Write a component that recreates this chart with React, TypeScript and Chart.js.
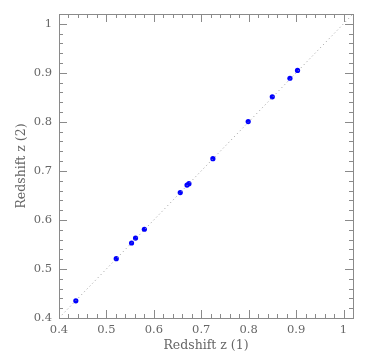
import React, { useEffect, useRef } from "react";
import { Chart, registerables } from "chart.js";

Chart.register(...registerables);

const redshift1 = [0.4355, 0.5207, 0.553, 0.5614, 0.58, 0.6557, 0.670, 0.674, 0.7245, 0.799, 0.8498, 0.887, 0.903];
const redshift2 = [0.435, 0.521, 0.553, 0.563, 0.581, 0.6557, 0.671, 0.674, 0.725, 0.8006, 0.851, 0.889, 0.905];
const axisMin = 0.4;
const axisMax = 1.02;
const diagonal = [axisMin, axisMax];
const xTitle = "Redshift z (1)";
const yTitle = "Redshift z (2)";

const FONT = "'DejaVu Serif', 'Liberation Serif', serif";
const TEXT = "#666666";
const FRAME = "#8a8a8a";

const frameTicks = {
  id: "frameTicks",
  afterDraw(chart: any) {
    const { ctx, chartArea } = chart;
    const { left, right, top, bottom } = chartArea;
    const xs = chart.scales.x;
    const ys = chart.scales.y;
    ctx.save();
    ctx.strokeStyle = FRAME;
    ctx.lineWidth = 1;
    ctx.strokeRect(Math.round(left) + 0.5, Math.round(top) + 0.5, Math.round(right - left), Math.round(bottom - top));
    const isMajor = (v: number) => Math.abs(v * 10 - Math.round(v * 10)) < 1e-6;
    ctx.beginPath();
    xs.ticks.forEach((t: any) => {
      const v = t.value;
      if (v <= axisMin + 1e-6 || v >= axisMax - 1e-6) return;
      const len = isMajor(v) ? 8 : 4;
      const px = Math.round(xs.getPixelForValue(v)) + 0.5;
      ctx.moveTo(px, bottom);
      ctx.lineTo(px, bottom - len);
      ctx.moveTo(px, top);
      ctx.lineTo(px, top + len);
    });
    ys.ticks.forEach((t: any) => {
      const v = t.value;
      if (v <= axisMin + 1e-6 || v >= axisMax - 1e-6) return;
      const len = isMajor(v) ? 8 : 4;
      const py = Math.round(ys.getPixelForValue(v)) + 0.5;
      ctx.moveTo(left, py);
      ctx.lineTo(left + len, py);
      ctx.moveTo(right, py);
      ctx.lineTo(right - len, py);
    });
    ctx.stroke();
    ctx.restore();
  },
};

export default function App() {
  const ref = useRef<HTMLCanvasElement>(null);
  useEffect(() => {
    document.body.style.margin = "0";
    const labelCb = (v: any) => {
      const n = Number(v);
      if (Math.abs(n * 10 - Math.round(n * 10)) > 1e-6) return "";
      if (n > 1.0001) return "";
      return Number(n.toFixed(1)).toString();
    };
    const chart = new Chart(ref.current as HTMLCanvasElement, {
      type: "scatter",
      data: {
        datasets: [
          {
            type: "line",
            data: diagonal.map((v) => ({ x: v, y: v })),
            borderColor: "#9a9a9a",
            borderWidth: 1,
            borderDash: [1, 3],
            pointRadius: 0,
            fill: false,
          } as any,
          {
            data: redshift1.map((x, i) => ({ x, y: redshift2[i] })),
            backgroundColor: "#0000ff",
            borderColor: "#0000ff",
            pointRadius: 2.6,
            borderWidth: 0,
          },
        ],
      },
      options: {
        animation: false,
        responsive: false,
        maintainAspectRatio: false,
        layout: { padding: { top: 14, right: 13, left: 0, bottom: 0 } },
        plugins: { legend: { display: false }, tooltip: { enabled: false } },
        scales: {
          x: {
            type: "linear",
            min: axisMin,
            max: axisMax,
            grid: { display: false, drawTicks: false },
            border: { display: false },
            ticks: {
              stepSize: 0.02,
              autoSkip: false,
              maxRotation: 0,
              padding: 5,
              color: TEXT,
              font: { family: FONT, size: 11.5 },
              callback: labelCb,
            },
            title: {
              display: true,
              text: xTitle,
              color: TEXT,
              font: { family: FONT, size: 12.5 },
              padding: { top: 0, bottom: 5 },
            },
            afterFit: (s: any) => {
              s.height = 40;
            },
          },
          y: {
            type: "linear",
            min: axisMin,
            max: axisMax,
            grid: { display: false, drawTicks: false },
            border: { display: false },
            ticks: {
              stepSize: 0.02,
              autoSkip: false,
              padding: 7,
              color: TEXT,
              font: { family: FONT, size: 11.5 },
              callback: labelCb,
            },
            title: {
              display: true,
              text: yTitle,
              color: TEXT,
              font: { family: FONT, size: 12.5 },
              padding: { top: 14, bottom: 0 },
            },
            afterFit: (s: any) => {
              s.width = 59;
            },
          },
        },
      },
      plugins: [frameTicks],
    });
    return () => chart.destroy();
  }, []);
  return (
    <div style={{ width: 366, height: 358, background: "#fff" }}>
      <canvas ref={ref} width={366} height={358} style={{ width: 366, height: 358, display: "block" }} />
    </div>
  );
}
